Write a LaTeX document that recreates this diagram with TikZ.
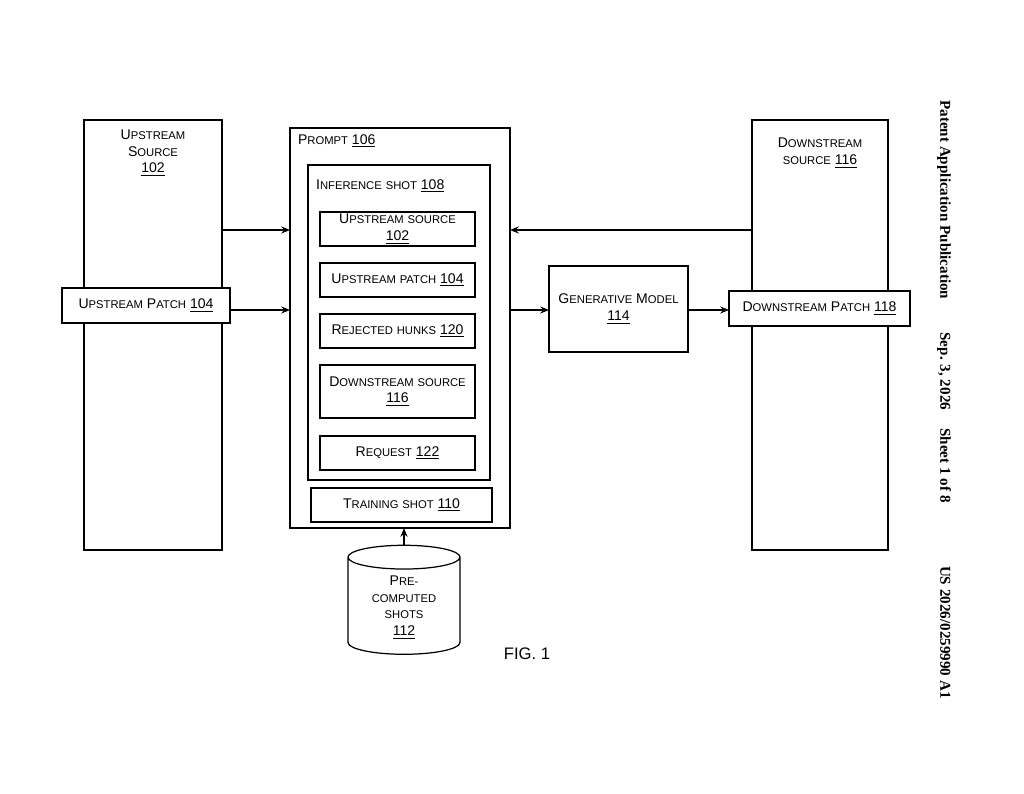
\documentclass[tikz,border=0pt]{standalone}
\usepackage{fontspec}
\setmainfont{Liberation Sans}
\newfontfamily\hdrfont{Liberation Serif}
\usetikzlibrary{shapes.geometric,arrows.meta}
\newcommand{\fsc}[2]{#1{\fontsize{6.4}{7}\selectfont #2}}
\tikzset{
  box/.style = {draw, line width=0.7pt, inner sep=0pt},
  lbl/.style = {font=\fontsize{8}{9.5}\selectfont, align=center, inner sep=1pt},
  arr/.style = {-{Stealth[length=5pt,width=4pt]}, line width=0.7pt}
}
\begin{document}
\begin{tikzpicture}[x=0.02cm,y=-0.02cm]
  \useasboundingbox (0,0) rectangle (1024,794);
  % side columns
  \draw [box] (84,120) rectangle (222,550);
  \node [lbl] (usrc) at (153,153) {\fsc{U}{PSTREAM}\\\fsc{S}{OURCE}\\\underline{102}};
  \draw [box,fill=white] (62,288) rectangle (230,323);
  \node [lbl] (upatch) at (146,305.5) {\fsc{U}{PSTREAM} \fsc{P}{ATCH} \underline{104}};
  \draw [box] (752,120) rectangle (888,550);
  \node [lbl] (dsrc) at (820,153) {\fsc{D}{OWNSTREAM}\\\fsc{}{SOURCE} \underline{116}};
  \draw [box,fill=white] (729,291) rectangle (910,326);
  \node [lbl] (dpatch) at (819.5,308.5) {\fsc{D}{OWNSTREAM} \fsc{P}{ATCH} \underline{118}};
  % prompt
  \draw [box] (290,128) rectangle (510,528);
  \node [lbl,anchor=west] (prompt) at (296,141) {\fsc{P}{ROMPT} \underline{106}};
  \draw [box] (308,165) rectangle (490,480);
  \node [lbl,anchor=west] (inf) at (314,186) {\fsc{I}{NFERENCE} \fsc{}{SHOT} \underline{108}};
  \draw [box] (320,212) rectangle (475,246);
  \node [lbl] (i1) at (397.5,229) {\fsc{U}{PSTREAM} \fsc{}{SOURCE}\\\underline{102}};
  \draw [box] (320,263) rectangle (475,297);
  \node [lbl] (i2) at (397.5,280) {\fsc{U}{PSTREAM} \fsc{}{PATCH} \underline{104}};
  \draw [box] (320,314) rectangle (475,348);
  \node [lbl] (i3) at (397.5,331) {\fsc{R}{EJECTED} \fsc{}{HUNKS} \underline{120}};
  \draw [box] (320,365) rectangle (475,418);
  \node [lbl] (i4) at (397.5,391.5) {\fsc{D}{OWNSTREAM} \fsc{}{SOURCE}\\\underline{116}};
  \draw [box] (320,436) rectangle (475,470);
  \node [lbl] (i5) at (397.5,453) {\fsc{R}{EQUEST} \underline{122}};
  \draw [box] (311,488) rectangle (492,522);
  \node [lbl] (train) at (401.5,505) {\fsc{T}{RAINING} \fsc{}{SHOT} \underline{110}};
  % model
  \draw [box] (549,266) rectangle (688,352);
  \node [lbl] (gen) at (618.5,309) {\fsc{G}{ENERATIVE} \fsc{M}{ODEL}\\\underline{114}};
  % cylinder
  \node [cylinder, shape border rotate=90, draw, line width=0.7pt, aspect=0.35,
         minimum width=112*0.02cm, minimum height=109*0.02cm, lbl] (shots) at (404,607.5)
        {\fsc{P}{RE-}\\\fsc{}{COMPUTED}\\\fsc{}{SHOTS}\\\underline{112}};
  % connectors
  \coordinate (a1) at (222,230); \coordinate (b1) at (290,230);
  \coordinate (a2) at (230,310); \coordinate (b2) at (290,310);
  \coordinate (a3) at (752,230); \coordinate (b3) at (510,230);
  \coordinate (a4) at (510,310); \coordinate (b4) at (549,310);
  \coordinate (a5) at (688,310); \coordinate (b5) at (729,310);
  \coordinate (b6) at (404,528);
  \draw [arr] (a1) -- (b1);
  \draw [arr] (a2) -- (b2);
  \draw [arr] (a3) -- (b3);
  \draw [arr] (a4) -- (b4);
  \draw [arr] (a5) -- (b5);
  \draw [arr] (shots.top) -- (b6);
  \node [font=\fontsize{9.5}{11}\selectfont] (fig) at (527,654) {FIG. 1};
  % header
  \node [rotate=-90, font=\hdrfont\bfseries\fontsize{8.6}{10}\selectfont, anchor=west, inner sep=0pt]
    (hdr) at (944,100) {Patent Application Publication\hspace{2.2em}Sep. 3, 2026\hspace{1.2em}Sheet 1 of 8\hspace{4.2em}US 2026/0259990 A1};
\end{tikzpicture}
\end{document}
